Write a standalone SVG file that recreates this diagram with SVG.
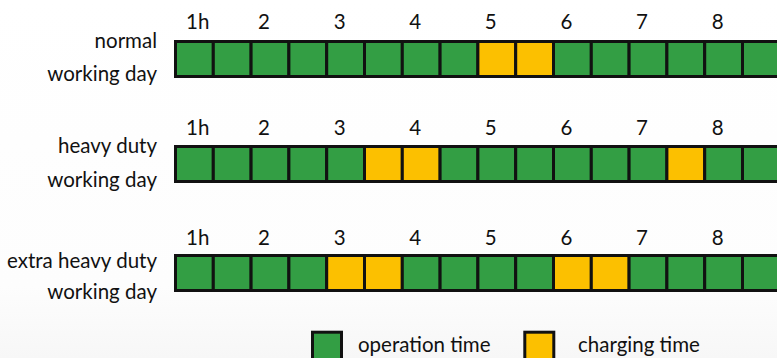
<svg xmlns="http://www.w3.org/2000/svg" width="777" height="358" viewBox="0 0 777 358">
<defs>
<linearGradient id="bg" x1="0" y1="0" x2="0" y2="1">
<stop offset="0" stop-color="#ffffff"/>
<stop offset="0.8" stop-color="#fdfdfd"/>
<stop offset="1" stop-color="#f7f7f7"/>
</linearGradient>
</defs>
<style>
text{font-family:Lato,"Open Sans","Liberation Sans",sans-serif;font-size:20.5px;fill:#111}
.lbl{text-anchor:end}
.hr{text-anchor:middle}
.op{fill:#339e44;stroke:#111;stroke-width:3}
.ch{fill:#fcc000;stroke:#111;stroke-width:3}
</style>
<rect width="777" height="358" fill="url(#bg)"/>

<g id="row-normal">
<text class="lbl" x="157" y="48">normal</text>
<text class="lbl" x="157" y="81">working day</text>
<text x="186" y="29">1h</text>
<text class="hr" x="264" y="29">2</text>
<text class="hr" x="339.6" y="29">3</text>
<text class="hr" x="415.2" y="29">4</text>
<text class="hr" x="490.8" y="29">5</text>
<text class="hr" x="566.4" y="29">6</text>
<text class="hr" x="642" y="29">7</text>
<text class="hr" x="717.6" y="29">8</text>
<rect class="op" x="175.5" y="41.5" width="37.8" height="35"/>
<rect class="op" x="213.3" y="41.5" width="37.8" height="35"/>
<rect class="op" x="251.1" y="41.5" width="37.8" height="35"/>
<rect class="op" x="288.9" y="41.5" width="37.8" height="35"/>
<rect class="op" x="326.7" y="41.5" width="37.8" height="35"/>
<rect class="op" x="364.5" y="41.5" width="37.8" height="35"/>
<rect class="op" x="402.3" y="41.5" width="37.8" height="35"/>
<rect class="op" x="440.1" y="41.5" width="37.8" height="35"/>
<rect class="ch" x="477.9" y="41.5" width="37.8" height="35"/>
<rect class="ch" x="515.7" y="41.5" width="37.8" height="35"/>
<rect class="op" x="553.5" y="41.5" width="37.8" height="35"/>
<rect class="op" x="591.3" y="41.5" width="37.8" height="35"/>
<rect class="op" x="629.1" y="41.5" width="37.8" height="35"/>
<rect class="op" x="666.9" y="41.5" width="37.8" height="35"/>
<rect class="op" x="704.7" y="41.5" width="37.8" height="35"/>
<rect class="op" x="742.5" y="41.5" width="37.8" height="35"/>
</g>

<g id="row-heavy">
<text class="lbl" x="157" y="153">heavy duty</text>
<text class="lbl" x="157" y="187">working day</text>
<text x="186" y="135">1h</text>
<text class="hr" x="264" y="135">2</text>
<text class="hr" x="339.6" y="135">3</text>
<text class="hr" x="415.2" y="135">4</text>
<text class="hr" x="490.8" y="135">5</text>
<text class="hr" x="566.4" y="135">6</text>
<text class="hr" x="642" y="135">7</text>
<text class="hr" x="717.6" y="135">8</text>
<rect class="op" x="175.5" y="146.5" width="37.8" height="35"/>
<rect class="op" x="213.3" y="146.5" width="37.8" height="35"/>
<rect class="op" x="251.1" y="146.5" width="37.8" height="35"/>
<rect class="op" x="288.9" y="146.5" width="37.8" height="35"/>
<rect class="op" x="326.7" y="146.5" width="37.8" height="35"/>
<rect class="ch" x="364.5" y="146.5" width="37.8" height="35"/>
<rect class="ch" x="402.3" y="146.5" width="37.8" height="35"/>
<rect class="op" x="440.1" y="146.5" width="37.8" height="35"/>
<rect class="op" x="477.9" y="146.5" width="37.8" height="35"/>
<rect class="op" x="515.7" y="146.5" width="37.8" height="35"/>
<rect class="op" x="553.5" y="146.5" width="37.8" height="35"/>
<rect class="op" x="591.3" y="146.5" width="37.8" height="35"/>
<rect class="op" x="629.1" y="146.5" width="37.8" height="35"/>
<rect class="ch" x="666.9" y="146.5" width="37.8" height="35"/>
<rect class="op" x="704.7" y="146.5" width="37.8" height="35"/>
<rect class="op" x="742.5" y="146.5" width="37.8" height="35"/>
</g>

<g id="row-extra-heavy">
<text class="lbl" x="157" y="268">extra heavy duty</text>
<text class="lbl" x="157" y="299">working day</text>
<text x="186" y="245">1h</text>
<text class="hr" x="264" y="245">2</text>
<text class="hr" x="339.6" y="245">3</text>
<text class="hr" x="415.2" y="245">4</text>
<text class="hr" x="490.8" y="245">5</text>
<text class="hr" x="566.4" y="245">6</text>
<text class="hr" x="642" y="245">7</text>
<text class="hr" x="717.6" y="245">8</text>
<rect class="op" x="175.5" y="255.5" width="37.8" height="35"/>
<rect class="op" x="213.3" y="255.5" width="37.8" height="35"/>
<rect class="op" x="251.1" y="255.5" width="37.8" height="35"/>
<rect class="op" x="288.9" y="255.5" width="37.8" height="35"/>
<rect class="ch" x="326.7" y="255.5" width="37.8" height="35"/>
<rect class="ch" x="364.5" y="255.5" width="37.8" height="35"/>
<rect class="op" x="402.3" y="255.5" width="37.8" height="35"/>
<rect class="op" x="440.1" y="255.5" width="37.8" height="35"/>
<rect class="op" x="477.9" y="255.5" width="37.8" height="35"/>
<rect class="op" x="515.7" y="255.5" width="37.8" height="35"/>
<rect class="ch" x="553.5" y="255.5" width="37.8" height="35"/>
<rect class="ch" x="591.3" y="255.5" width="37.8" height="35"/>
<rect class="op" x="629.1" y="255.5" width="37.8" height="35"/>
<rect class="op" x="666.9" y="255.5" width="37.8" height="35"/>
<rect class="op" x="704.7" y="255.5" width="37.8" height="35"/>
<rect class="op" x="742.5" y="255.5" width="37.8" height="35"/>
</g>

<g id="legend">
<rect class="op" x="312.5" y="332.2" width="29" height="28"/>
<text x="358" y="352">operation time</text>
<rect class="ch" x="524.8" y="332.2" width="29" height="28"/>
<text x="578" y="352">charging time</text>
</g>
</svg>
